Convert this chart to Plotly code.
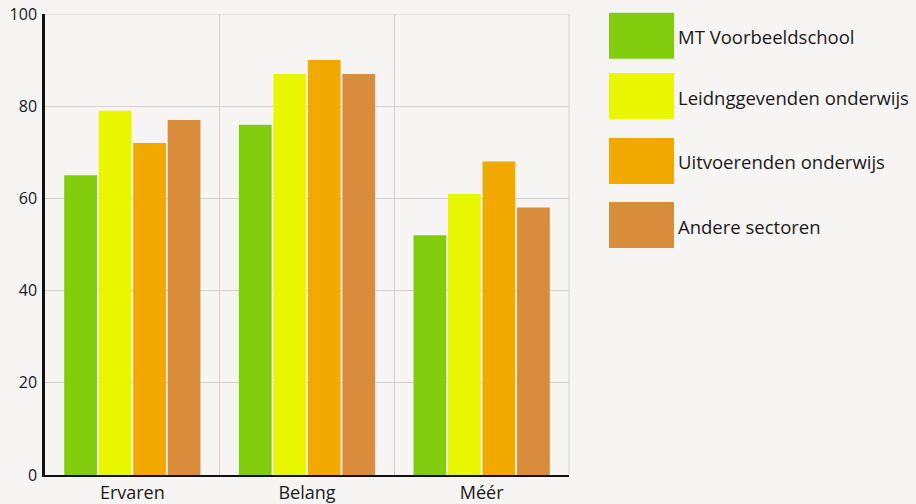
import plotly.graph_objects as go

# Survey scores per theme for four respondent groups
categories = ["Ervaren", "Belang", "Méér"]
series_names = [
    "MT Voorbeeldschool",
    "Leidnggevenden onderwijs",
    "Uitvoerenden onderwijs",
    "Andere sectoren",
]
mt_voorbeeldschool = [65, 76, 52]
leidinggevenden = [79, 87, 61]
uitvoerenden = [72, 90, 68]
andere_sectoren = [77, 87, 58]
series_values = [mt_voorbeeldschool, leidinggevenden, uitvoerenden, andere_sectoren]
y_ticks = [0, 20, 40, 60, 80, 100]

colors = ["#82cc0e", "#e8f700", "#f1a900", "#d98d3c"]
bg = "#f7f4f4"
grid = "#d4d0d0"
text_color = "#1a1a1a"
font_family = "Open Sans, DejaVu Sans, sans-serif"

W, H = 916, 504
L, R, T, B = 45, 347, 14, 29
PW, PH = W - L - R, H - T - B

fig = go.Figure()
for name, vals, col in zip(series_names, series_values, colors):
    fig.add_trace(go.Bar(
        x=categories, y=vals, name=name,
        marker=dict(color=col, line=dict(width=0)),
        showlegend=False,
    ))

# Hand-built legend with large colour blocks (pixel layout converted to paper units)
def px_x(x):
    return (x - L) / PW

def px_y(y):
    return (H - B - y) / PH

legend_tops = [12.7, 73, 138, 202]
block_h = 46
for top, name, col in zip(legend_tops, series_names, colors):
    fig.add_shape(type="rect", xref="paper", yref="paper",
                  x0=px_x(609), x1=px_x(674),
                  y0=px_y(top + block_h), y1=px_y(top),
                  fillcolor=col, line=dict(width=0), layer="above")
    fig.add_annotation(xref="paper", yref="paper",
                       x=px_x(676), y=px_y(top + block_h / 2 + 1),
                       text=name, showarrow=False, xanchor="left", yanchor="middle",
                       font=dict(family=font_family, size=18.5, color=text_color))

# Top and right frame lines of the plot area
fig.add_shape(type="line", xref="paper", yref="y", x0=0, x1=1, y0=100, y1=100,
              line=dict(color=grid, width=1))
fig.add_shape(type="line", xref="paper", yref="y", x0=1, x1=1, y0=0, y1=100,
              line=dict(color=grid, width=1))

fig.update_layout(
    width=W, height=H,
    margin=dict(l=L, r=R, t=T, b=B, autoexpand=False),
    paper_bgcolor=bg, plot_bgcolor=bg,
    barmode="group", bargap=0.21, bargroupgap=0.05,
    font=dict(family=font_family, color=text_color),
    xaxis=dict(
        type="category", tickson="boundaries", automargin=False,
        showgrid=True, gridcolor=grid, gridwidth=1,
        showline=True, linecolor="#111", linewidth=2,
        ticks="", ticklabelstandoff=0,
        tickfont=dict(size=18, color=text_color),
    ),
    yaxis=dict(
        range=[0, 100], tickvals=y_ticks, ticktext=[str(v) for v in y_ticks],
        automargin=False,
        showgrid=True, gridcolor=grid, gridwidth=1,
        showline=True, linecolor="#111", linewidth=2.5,
        zeroline=False, ticks="", ticklabelstandoff=2,
        tickfont=dict(size=16, color=text_color),
    ),
)

fig.write_html("out.html")
